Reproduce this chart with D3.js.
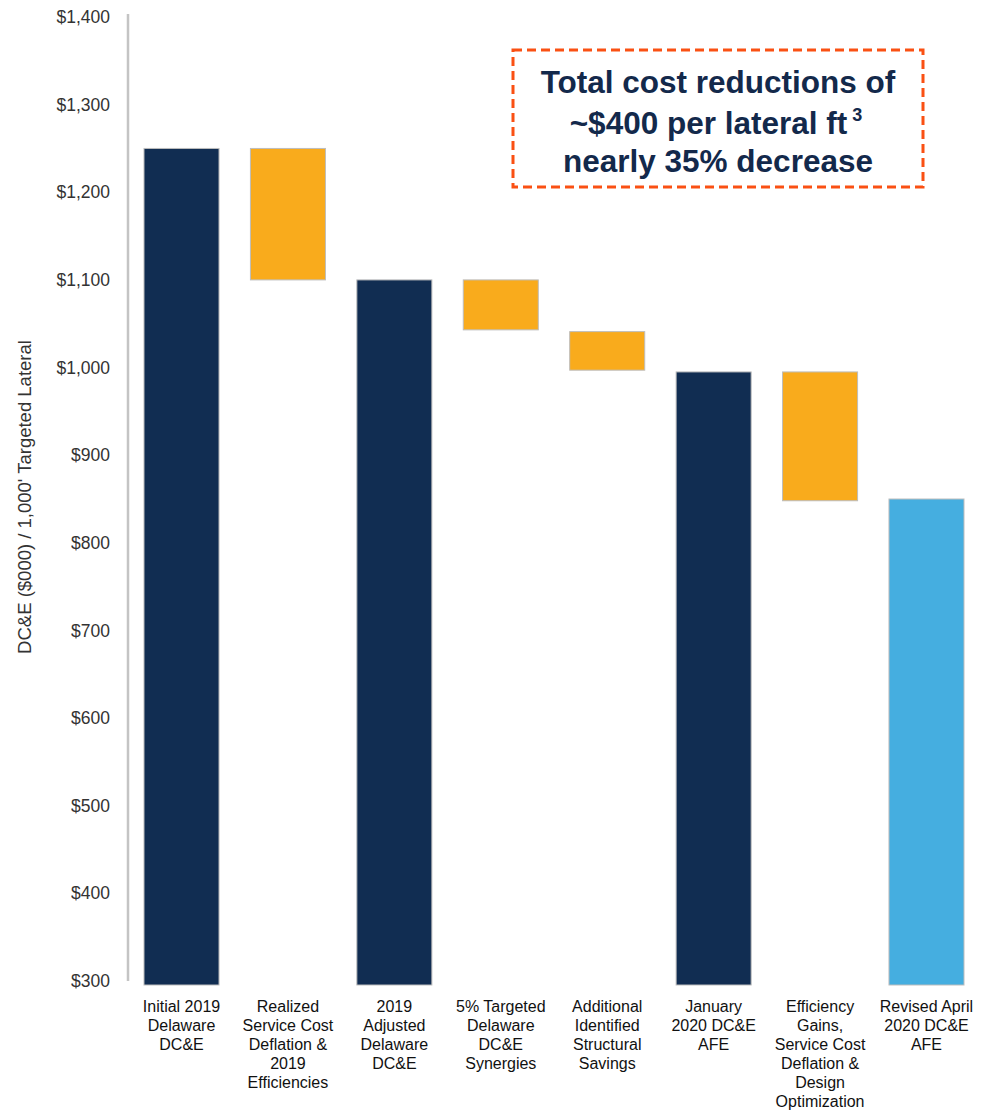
<!DOCTYPE html>
<html><head><meta charset="utf-8">
<script src="https://cdn.jsdelivr.net/npm/d3@7"></script>
<style>body{margin:0;background:#fff;} svg{display:block;font-family:"Liberation Sans",Arial,sans-serif;}</style>
</head><body>
<svg id="chart" width="988" height="1111"></svg>
<script>
const categories = [
  ["Initial 2019","Delaware","DC&E"],
  ["Realized","Service Cost","Deflation &","2019","Efficiencies"],
  ["2019","Adjusted","Delaware","DC&E"],
  ["5% Targeted","Delaware","DC&E","Synergies"],
  ["Additional","Identified","Structural","Savings"],
  ["January","2020 DC&E","AFE"],
  ["Efficiency","Gains,","Service Cost","Deflation &","Design","Optimization"],
  ["Revised April","2020 DC&E","AFE"]
];
const barLow  = [300, 1100, 300, 1043, 997, 300, 848, 300];
const barHigh = [1250, 1250, 1100, 1100, 1041, 995, 995, 850];
const barType = ["total","decrease","total","decrease","decrease","total","decrease","final"];
const yTicks = [300,400,500,600,700,800,900,1000,1100,1200,1300,1400];
const annotation = ["Total cost reductions of", "~$400 per lateral ft", "nearly 35% decrease"];
const yTitle = "DC&E ($000) / 1,000' Targeted Lateral";

const colors = {total:"#112d52", decrease:"#f9ab1c", final:"#45aee0"};
const svg = d3.select("#chart");

const y = d3.scaleLinear().domain([300,1400]).range([981,17]);
const x = d3.scaleBand().domain(d3.range(categories.length)).range([128.3,979.7]).paddingInner(0.295).paddingOuter(0.1475);

// axis line
svg.append("line").attr("x1",128).attr("x2",128).attr("y1",14).attr("y2",981)
  .attr("stroke","#c4c4c4").attr("stroke-width",2.5);

// tick labels
svg.append("g").selectAll("text").data(yTicks).join("text")
  .attr("x",110).attr("y",d=>y(d)).attr("dy","0.35em").attr("text-anchor","end")
  .attr("font-size",17.5).attr("fill","#333")
  .text(d=>d3.format("$,")(d));

// y title
svg.append("text").attr("transform","translate(31,497) rotate(-90)")
  .attr("text-anchor","middle").attr("font-size",18.5).attr("fill","#333").text(yTitle);

// bars
svg.append("g").selectAll("rect").data(categories).join("rect")
  .attr("x",(d,i)=>x(i)).attr("width",x.bandwidth())
  .attr("y",(d,i)=>y(barHigh[i]))
  .attr("height",(d,i)=> (barType[i]==="decrease" ? y(barLow[i]) : y(barLow[i])+4) - y(barHigh[i]))
  .attr("fill",(d,i)=>colors[barType[i]])
  .attr("stroke","#bdbdbd").attr("stroke-width",1);

// x labels
const xl = svg.append("g").selectAll("text").data(categories).join("text")
  .attr("x",(d,i)=>x(i)+x.bandwidth()/2).attr("y",1012)
  .attr("text-anchor","middle").attr("font-size",16).attr("fill","#111");
xl.selectAll("tspan").data(d=>d).join("tspan")
  .attr("x",function(){return this.parentNode.getAttribute("x");})
  .attr("dy",(d,j)=>j===0?0:19).text(d=>d);

// annotation
svg.append("rect").attr("x",513).attr("y",50).attr("width",410).attr("height",137)
  .attr("fill","none").attr("stroke","#fa5013").attr("stroke-width",3).attr("stroke-dasharray","9,5");
const at = svg.append("text").attr("text-anchor","middle").attr("font-weight","bold")
  .attr("font-size",31.5).attr("fill","#13294b");
at.append("tspan").attr("x",718).attr("y",93).text(annotation[0]);
const l2 = at.append("tspan").attr("x",716).attr("y",134).text(annotation[1]);
l2.append("tspan").attr("font-size",18).attr("dy",-13).text(" 3");
at.append("tspan").attr("x",718).attr("y",172).text(annotation[2]);
</script>
</body></html>
